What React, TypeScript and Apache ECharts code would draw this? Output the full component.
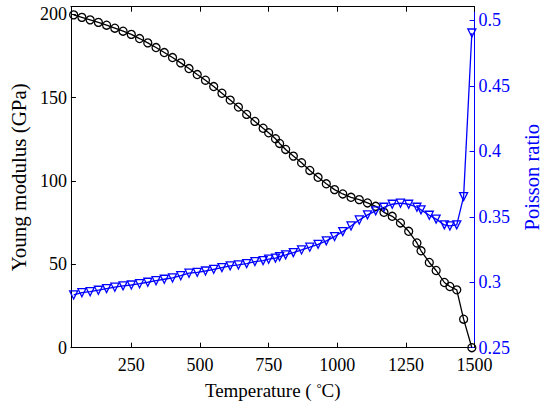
import React, { useEffect, useRef } from "react";
import * as echarts from "echarts";

const temperatures = [
  40, 70, 100, 130, 160, 190, 220, 250, 280, 310, 340, 370, 400, 430, 460, 490,
  520, 550, 580, 610, 640, 670, 700, 730, 750, 775, 790, 812, 840, 870, 900, 930,
  960, 990, 1020, 1050, 1080, 1110, 1140, 1170, 1200, 1230, 1260, 1290, 1305,
  1335, 1360, 1390, 1410, 1435, 1460, 1490,
];

const youngModulus = [
  199.6, 198.1, 196.6, 195.1, 193.4, 191.6, 189.8, 187.9, 185.4, 182.8, 180.0,
  177.0, 174.0, 170.8, 167.4, 163.8, 160.4, 156.6, 152.6, 148.5, 144.3, 139.9,
  135.7, 131.6, 128.9, 125.3, 122.5, 118.9, 114.9, 110.9, 106.3, 102.2, 98.3,
  94.8, 92.2, 90.2, 88.8, 86.8, 84.8, 81.2, 78.8, 74.8, 69.8, 62.8, 58.1, 51.1,
  46.3, 39.1, 36.7, 34.7, 17.1, 0,
];

const poissonRatio = [
  0.2903, 0.292, 0.2928, 0.2939, 0.2951, 0.2962, 0.2972, 0.2979, 0.2989, 0.3,
  0.3012, 0.3023, 0.3033, 0.305, 0.3069, 0.3076, 0.3086, 0.3099, 0.3112, 0.3125,
  0.3132, 0.3142, 0.3158, 0.3165, 0.3176, 0.3184, 0.3196, 0.3209, 0.3226,
  0.3247, 0.3268, 0.329, 0.3316, 0.3349, 0.3387, 0.343, 0.3476, 0.3515, 0.3545,
  0.3573, 0.3596, 0.3604, 0.3596, 0.3573, 0.3553, 0.3512, 0.3482, 0.3438,
  0.343, 0.3438, 0.3654, 0.4904,
];

const xTicks = [250, 500, 750, 1000, 1250, 1500];
const yLeftTicks = [0, 50, 100, 150, 200];
const yRightTicks = [0.25, 0.3, 0.35, 0.4, 0.45, 0.5];

const FONT = "'Liberation Serif', 'Times New Roman', serif";
const FS = 18;
const BLUE = "#0000ff";
const plain = (v: number) => String(v);

export default function App() {
  const ref = useRef<HTMLDivElement>(null);
  useEffect(() => {
    if (!ref.current) return;
    const chart = echarts.init(ref.current, undefined, { renderer: "svg" });
    const youngData = temperatures.map((t, i) => [t, youngModulus[i]]);
    const poissonData = temperatures.map((t, i) => [t, poissonRatio[i]]);
    const labelBase = { fontFamily: FONT, fontSize: FS };
    chart.setOption({
      animation: false,
      backgroundColor: "#ffffff",
      grid: { left: 66.7, right: 68.3, top: 6.7, bottom: 63.3 },
      xAxis: [
        {
          type: "value",
          position: "bottom",
          min: 30,
          max: 1500,
          name: "Temperature ( {sup|°}C)",
          nameLocation: "middle",
          nameGap: 33,
          nameTextStyle: {
            fontFamily: FONT,
            fontSize: 19,
            color: "#000",
            rich: {
              sup: { fontFamily: FONT, fontSize: 13, verticalAlign: "top", padding: [0, 0, 6, 0] },
            },
          },
          axisLine: { show: true, onZero: false, lineStyle: { color: "#000", width: 1 } },
          axisTick: { show: true, inside: true, length: 5, customValues: xTicks, lineStyle: { color: "#000" } },
          axisLabel: { ...labelBase, color: "#000", margin: 8, customValues: xTicks, formatter: plain },
          splitLine: { show: false },
        },
        {
          type: "value",
          position: "top",
          min: 30,
          max: 1500,
          axisLine: { show: true, onZero: false, lineStyle: { color: "#000", width: 1 } },
          axisTick: { show: true, inside: true, length: 5, customValues: xTicks, lineStyle: { color: "#000" } },
          axisLabel: { show: false },
          splitLine: { show: false },
        },
      ],
      yAxis: [
        {
          type: "value",
          position: "left",
          min: 0,
          max: 204.5,
          name: "Young modulus (GPa)",
          nameLocation: "middle",
          nameGap: 38,
          nameRotate: 90,
          nameTextStyle: { fontFamily: FONT, fontSize: 21, color: "#000" },
          axisLine: { show: true, onZero: false, lineStyle: { color: "#000", width: 1 } },
          axisTick: { show: true, inside: true, length: 5, customValues: yLeftTicks, lineStyle: { color: "#000" } },
          axisLabel: { ...labelBase, color: "#000", margin: 4, customValues: yLeftTicks, formatter: plain },
          splitLine: { show: false },
        },
        {
          type: "value",
          position: "right",
          min: 0.25,
          max: 0.5105,
          name: "Poisson ratio",
          nameLocation: "middle",
          nameGap: 37.5,
          nameRotate: 90,
          nameTextStyle: { fontFamily: FONT, fontSize: 20.5, color: BLUE },
          axisLine: { show: true, onZero: false, lineStyle: { color: BLUE, width: 1 } },
          axisTick: { show: true, inside: true, length: 5, customValues: yRightTicks, lineStyle: { color: BLUE } },
          axisLabel: { ...labelBase, color: BLUE, margin: 4, customValues: yRightTicks, formatter: plain },
          splitLine: { show: false },
        },
      ],
      series: [
        {
          type: "line",
          xAxisIndex: 0,
          yAxisIndex: 0,
          data: youngData,
          symbol: "circle",
          symbolSize: 8,
          clip: false,
          itemStyle: { color: "rgba(0,0,0,0)", borderColor: "#000", borderWidth: 1.3 },
          lineStyle: { color: "#000", width: 1.3 },
        },
        {
          type: "line",
          xAxisIndex: 0,
          yAxisIndex: 1,
          data: poissonData,
          symbol: "triangle",
          symbolRotate: 180,
          symbolSize: 8,
          clip: false,
          itemStyle: { color: "rgba(0,0,0,0)", borderColor: BLUE, borderWidth: 1.3 },
          lineStyle: { color: BLUE, width: 1.3 },
        },
      ],
    });
    return () => chart.dispose();
  }, []);
  return (
    <div
      ref={ref}
      style={{ position: "fixed", left: 0, top: 0, width: 550, height: 411, background: "#fff" }}
    />
  );
}
